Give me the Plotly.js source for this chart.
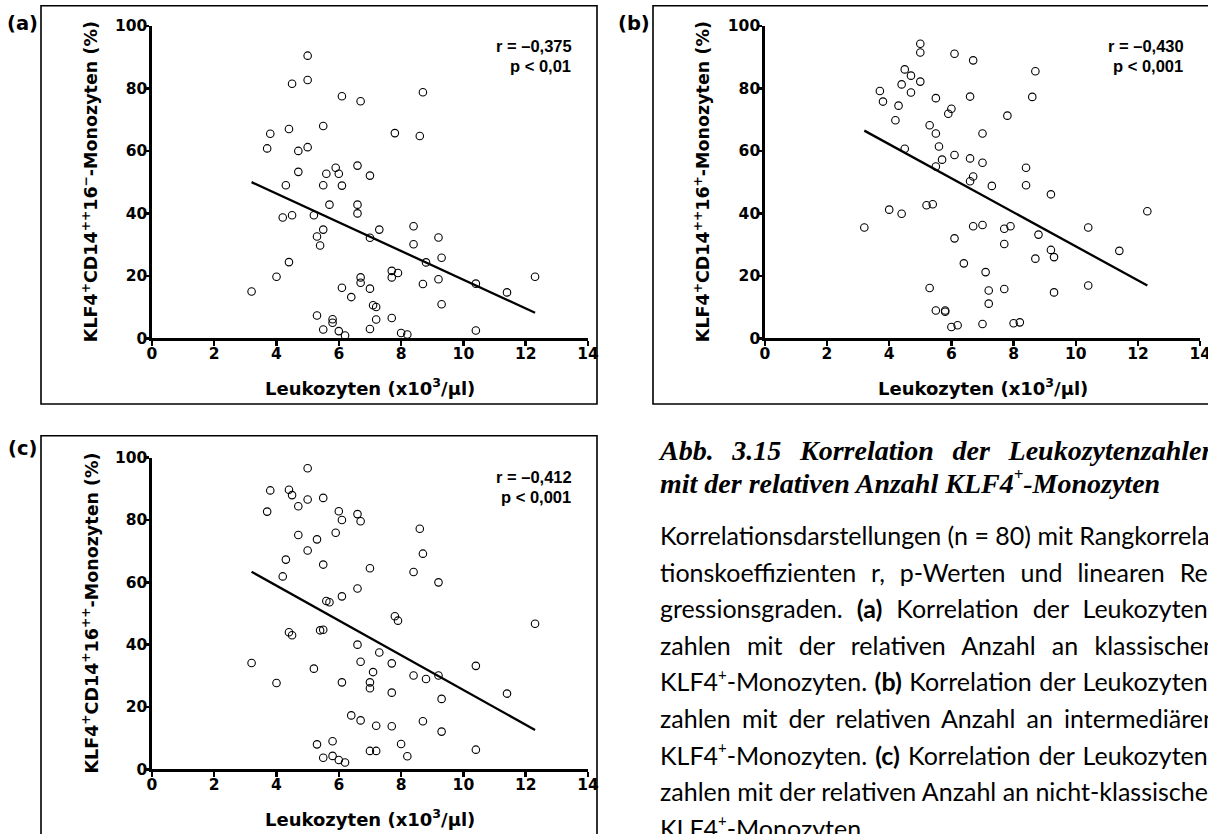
<!DOCTYPE html>
<html>
<head>
<meta charset="utf-8">
<script src="https://cdn.plot.ly/plotly-3.0.1.min.js"></script>
<style>
  html, body { margin:0; padding:0; background:#fff; }
  #wrap { position:relative; width:1208px; height:834px; overflow:hidden; }
  #chart { position:absolute; left:0; top:0; width:1208px; height:834px; }
  #cap { position:absolute; left:660px; top:0; width:557px; }
  .tl { position:absolute; left:0; width:557px; white-space:nowrap; font-family:"Liberation Serif", serif; font-weight:bold; font-style:italic; font-size:28px; line-height:34px; color:#000; }
  .bl { position:absolute; left:0; width:557px; white-space:nowrap; font-family:"Lato", sans-serif; font-size:25px; line-height:36px; color:#000; }
  .j { text-align:justify; text-align-last:justify; }
  sup { font-size:60%; position:relative; top:-0.15em; vertical-align:super; line-height:1; }
</style>
</head>
<body>
<div id="wrap">
  <div id="chart"></div>
  <div id="cap"></div>
</div>
<script>
// ---------------- data ----------------
const xA = [5.0,5.0,4.5,6.1,6.7,8.7,4.4,3.8,5.5,7.8,8.6,3.7,4.7,5.0,4.7,5.9,5.6,6.0,6.6,7.0,4.3,5.5,6.1,5.7,6.6,6.6,4.2,4.5,5.2,5.5,5.3,5.4,7.3,7.0,8.4,8.4,9.2,9.3,8.8,4.4,4.0,3.2,6.7,6.7,6.1,7.0,6.4,7.7,7.7,7.9,9.2,8.7,10.4,11.4,12.3,9.3,7.1,7.2,5.3,5.8,5.8,7.2,7.7,5.5,6.0,6.2,7.0,8.0,8.2,10.4];
const yA = [90.5,82.7,81.5,77.5,75.9,78.8,67.0,65.5,68.0,65.7,64.8,60.8,60.0,61.2,53.3,54.6,52.7,52.7,55.3,52.1,49.0,49.0,48.9,42.8,42.8,40.0,38.7,39.4,39.4,34.8,32.6,29.7,34.8,32.2,35.9,30.1,32.3,25.8,24.3,24.4,19.7,15.0,19.5,17.8,16.2,15.9,13.2,21.6,19.5,20.9,18.9,17.4,17.5,14.7,19.7,10.9,10.6,10.0,7.3,6.1,5.0,6.0,6.5,2.8,2.3,0.9,3.0,1.7,1.2,2.5];

const xB = [5.0,5.0,6.1,6.7,8.7,4.5,4.7,4.4,5.0,3.7,3.8,4.7,4.3,5.5,6.6,8.6,6.0,5.9,7.8,4.2,5.3,5.5,7.0,5.6,4.5,6.1,5.7,6.6,7.0,5.5,6.7,6.6,7.3,8.4,8.4,9.2,5.2,5.4,4.0,4.4,3.2,6.7,7.0,7.7,7.9,6.1,7.7,8.8,9.2,9.3,8.7,10.4,11.4,12.3,6.4,7.1,5.3,7.2,7.7,9.3,10.4,7.2,5.5,5.8,5.8,6.0,6.2,7.0,8.0,8.2];
const yB = [94.3,91.5,91.1,89.0,85.5,86.1,84.1,81.3,82.2,79.2,75.8,78.7,74.5,76.9,77.4,77.3,73.5,71.9,71.3,69.8,68.2,65.6,65.6,61.4,60.7,58.7,57.2,57.6,56.2,55.0,51.8,50.3,48.8,54.6,49.0,46.1,42.6,42.9,41.2,39.9,35.5,35.9,36.3,35.1,35.9,32.0,30.2,33.2,28.3,26.0,25.5,35.5,28.0,40.7,24.0,21.2,16.1,15.3,15.8,14.7,16.9,11.1,8.9,8.9,8.5,3.6,4.2,4.6,4.8,5.1];

const xC = [5.0,3.8,4.4,4.5,5.0,5.5,3.7,4.7,6.0,6.6,6.1,6.7,8.6,4.7,5.9,5.3,5.0,8.7,4.3,5.5,7.0,4.2,8.4,9.2,6.6,6.1,5.6,5.7,7.8,7.9,12.3,4.4,4.5,5.4,5.5,6.6,7.3,6.7,7.7,7.1,3.2,5.2,10.4,8.4,9.2,8.8,4.0,6.1,7.0,7.0,7.7,11.4,9.3,6.4,6.7,7.2,7.7,8.7,9.3,5.3,5.8,8.0,10.4,7.0,7.2,5.5,5.8,6.0,6.2,8.2];
const yC = [96.6,89.5,89.7,88.0,86.6,87.1,82.7,84.4,82.8,81.9,80.0,79.6,77.2,75.2,75.9,73.8,70.2,69.2,67.3,65.7,64.5,61.9,63.3,60.0,58.0,55.5,54.0,53.6,49.1,47.7,46.7,44.0,43.0,44.6,44.8,40.0,37.5,34.5,34.0,31.2,34.1,32.3,33.2,30.1,30.1,29.0,27.7,27.9,27.9,26.0,24.6,24.3,22.6,17.3,15.7,14.0,13.8,15.4,12.1,8.0,9.0,8.1,6.3,5.9,5.9,3.7,4.3,3.0,2.2,4.2];

// regression lines (end points)
const fitX  = [3.2, 12.3];
const fitYA = [50.0, 8.2];
const fitYB = [66.5, 16.9];
const fitYC = [63.4, 12.6];

const rTexts = ["r = –0,375", "r = –0,430", "r = –0,412"];
const pTexts = ["p < 0,01", "p < 0,001", "p < 0,001"];
const yTitles = [
  "KLF4<sup>+</sup>CD14<sup>++</sup>16<sup>−</sup>-Monozyten (%)",
  "KLF4<sup>+</sup>CD14<sup>++</sup>16<sup>+</sup>-Monozyten (%)",
  "KLF4<sup>+</sup>CD14<sup>+</sup>16<sup>++</sup>-Monozyten (%)"
];
const xTitle = "Leukozyten (x10<sup>3</sup>/µl)";
const panelLabels = ["(a)", "(b)", "(c)"];

const capTitle = [
  "Abb. 3.15 Korrelation der Leukozytenzahlen",
  "mit der relativen Anzahl KLF4<sup>+</sup>-Monozyten"
];
const capBody = [
  "Korrelationsdarstellungen (n = 80) mit Rangkorrela-",
  "tionskoeffizienten r, p-Werten und linearen Re-",
  "gressionsgraden. <b>(a)</b> Korrelation der Leukozyten-",
  "zahlen mit der relativen Anzahl an klassischen",
  "KLF4<sup>+</sup>-Monozyten. <b>(b)</b> Korrelation der Leukozyten-",
  "zahlen mit der relativen Anzahl an intermediären",
  "KLF4<sup>+</sup>-Monozyten. <b>(c)</b> Korrelation der Leukozyten-",
  "zahlen mit der relativen Anzahl an nicht-klassischen",
  "KLF4<sup>+</sup>-Monozyten."
];

// ---------------- layout helpers ----------------
const W = 1208, H = 834;
const px = x => x / W;
const py = y => 1 - y / H;

const FONT = "DejaVu Sans";
const traces = [];
const sets = [[xA, yA, fitYA], [xB, yB, fitYB], [xC, yC, fitYC]];
sets.forEach((s, i) => {
  const xa = i === 0 ? "x" : "x" + (i + 1);
  const ya = i === 0 ? "y" : "y" + (i + 1);
  traces.push({
    type: "scatter", mode: "markers", x: s[0], y: s[1], xaxis: xa, yaxis: ya,
    cliponaxis: false, hoverinfo: "skip",
    marker: { symbol: "circle-open", size: 7.5, color: "#000", line: { width: 1.1, color: "#000" } }
  });
  traces.push({
    type: "scatter", mode: "lines", x: fitX, y: s[2], xaxis: xa, yaxis: ya,
    cliponaxis: false, hoverinfo: "skip",
    line: { color: "#000", width: 2.3 }
  });
});

function xax(dom, anchor) {
  return {
    domain: dom, anchor: anchor, range: [0, 14], dtick: 2, tick0: 0,
    showline: true, linecolor: "#000", linewidth: 2.5, mirror: false,
    ticks: "outside", ticklen: 5, tickwidth: 2.5, tickcolor: "#000",
    showgrid: false, zeroline: false, fixedrange: true, automargin: false,
    ticklabelstandoff: -5, ticklabeloverflow: "allow",
    tickfont: { family: FONT, size: 15.5, color: "#000", weight: "bold" }
  };
}
function yax(dom, anchor) {
  return {
    domain: dom, anchor: anchor, range: [0, 100], dtick: 20, tick0: 0,
    showline: true, linecolor: "#000", linewidth: 2.5, mirror: false,
    ticks: "outside", ticklen: 5, tickwidth: 2.5, tickcolor: "#000",
    showgrid: false, zeroline: false, fixedrange: true, automargin: false,
    ticklabelstandoff: -6, ticklabeloverflow: "allow",
    tickfont: { family: FONT, size: 15.5, color: "#000", weight: "bold" }
  };
}

// pixel geometry of the three panels
const panels = [
  { box: [41, 5.7, 597, 404],   ax: [151.9, 588.0], ay: [26, 338.3],   lab: [22, 23],    ytx: 90,  rtx: 574 },
  { box: [653, 5.7, 1212, 404], ax: [764.8, 1200.2], ay: [26, 338.3],  lab: [634.5, 23], ytx: 702, rtx: 1186 },
  { box: [41, 435.7, 597, 840], ax: [151.9, 588.0], ay: [457.7, 769.3], lab: [22, 448.3], ytx: 90,  rtx: 574 }
];

const annotations = [];
const shapes = [];
const layout = {
  width: W, height: H, margin: { l: 0, r: 0, t: 0, b: 0 },
  paper_bgcolor: "#fff", plot_bgcolor: "rgba(0,0,0,0)", showlegend: false
};

panels.forEach((p, i) => {
  const n = i === 0 ? "" : String(i + 1);
  layout["xaxis" + n] = xax([px(p.ax[0]), px(p.ax[1])], "y" + n);
  layout["yaxis" + n] = yax([py(p.ay[1]), py(p.ay[0])], "x" + n);
  shapes.push({ type: "rect", xref: "paper", yref: "paper",
    x0: px(p.box[0]), x1: px(p.box[2]), y0: py(p.box[3]), y1: py(p.box[1]),
    line: { color: "#000", width: 1.6 }, fillcolor: "rgba(0,0,0,0)" });
  const bold = (size) => ({ family: FONT, size: size, color: "#000", weight: "bold" });
  annotations.push({ xref: "paper", yref: "paper", x: px(p.lab[0]), y: py(p.lab[1]),
    text: panelLabels[i], showarrow: false, xanchor: "center", yanchor: "middle", font: bold(19.5) });
  annotations.push({ xref: "paper", yref: "paper", x: px(p.ytx), y: py((p.ay[0] + p.ay[1]) / 2),
    text: yTitles[i], textangle: -90, showarrow: false, xanchor: "center", yanchor: "middle", font: bold(17.5) });
  annotations.push({ xref: "paper", yref: "paper", x: px((p.ax[0] + p.ax[1]) / 2), y: py(p.ay[1] + 48.7),
    text: xTitle, showarrow: false, xanchor: "center", yanchor: "middle", font: bold(18) });
  const nf = { family: "Liberation Sans", size: 16.5, color: "#000", weight: "bold" };
  annotations.push({ xref: "paper", yref: "paper", x: px(p.rtx), y: py(p.ay[0] + 19.7),
    text: rTexts[i], showarrow: false, xanchor: "right", yanchor: "middle", font: nf });
  annotations.push({ xref: "paper", yref: "paper", x: px(p.rtx - 1), y: py(p.ay[0] + 39.7),
    text: pTexts[i], showarrow: false, xanchor: "right", yanchor: "middle", font: nf });
});
layout.annotations = annotations;
layout.shapes = shapes;

Plotly.newPlot("chart", traces, layout, { staticPlot: true, displayModeBar: false });

// ---------------- caption ----------------
const cap = document.getElementById("cap");
capTitle.forEach((t, i) => {
  const d = document.createElement("div");
  d.className = "tl" + (i < capTitle.length - 1 ? " j" : "");
  d.style.top = (434 + i * 33.3) + "px";
  d.innerHTML = t;
  cap.appendChild(d);
});
capBody.forEach((t, i) => {
  const d = document.createElement("div");
  d.className = "bl" + (i < capBody.length - 1 ? " j" : "");
  d.style.top = (517 + i * 36.6) + "px";
  d.innerHTML = t;
  cap.appendChild(d);
});
</script>
</body>
</html>
